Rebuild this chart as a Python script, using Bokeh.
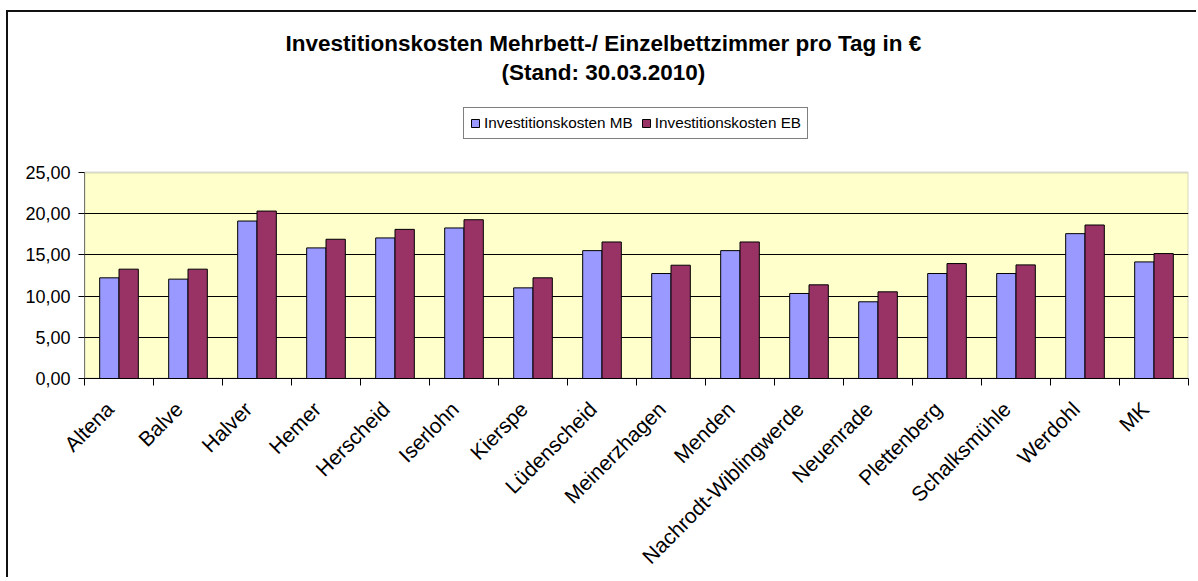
from bokeh.plotting import figure
from bokeh.models import (FixedTicker, CustomJSTickFormatter, Label, BoxAnnotation,
                          ColumnDataSource)
from bokeh.embed import file_html
from bokeh.resources import INLINE
import math

# ---- data ----
towns = ["Altena", "Balve", "Halver", "Hemer", "Herscheid", "Iserlohn", "Kierspe",
         "Lüdenscheid", "Meinerzhagen", "Menden", "Nachrodt-Wiblingwerde", "Neuenrade",
         "Plettenberg", "Schalksmühle", "Werdohl", "MK"]
kosten_mb = [12.22, 12.06, 19.11, 15.85, 17.06, 18.27, 11.00, 15.52, 12.74, 15.52,
             10.32, 9.31, 12.74, 12.74, 17.58, 14.15]
kosten_eb = [13.27, 13.27, 20.32, 16.90, 18.10, 19.27, 12.22, 16.57, 13.75, 16.57,
             11.37, 10.52, 13.95, 13.79, 18.63, 15.16]
y_ticks = [0, 5, 10, 15, 20, 25]
title_line1 = "Investitionskosten Mehrbett-/ Einzelbettzimmer pro Tag in €"
title_line2 = "(Stand: 30.03.2010)"
series_names = ["Investitionskosten MB", "Investitionskosten EB"]

FONT = "Liberation Sans"
n = len(towns)
y_max = y_ticks[-1]
bw = 0.28
centers = [i + 0.5 for i in range(n)]
label_pos = [c - 0.13 for c in centers]   # rotated labels end slightly left of centre
src = ColumnDataSource(dict(
    x_mb=[c - bw / 2 for c in centers],
    x_eb=[c + bw / 2 for c in centers],
    mb=kosten_mb, eb=kosten_eb))

# frame covers plot area plus the title/legend band above it
p = figure(width=1190, height=567, x_range=(0, n), y_range=(0, 43.45),
           output_backend="svg", toolbar_location=None,
           min_border_left=76, min_border_right=10, min_border_top=8, min_border_bottom=150,
           styles={"border-left": "2px solid #111", "border-top": "2px solid #111",
                   "margin-left": "6px", "margin-top": "10px"})
p.outline_line_color = None
p.background_fill_color = "white"
p.border_fill_color = "white"

# plot area background + gray border (drawn under the grid)
p.add_layout(BoxAnnotation(left=0, right=n, bottom=0, top=y_max, level="image",
                           fill_color="#FFFFCC", fill_alpha=1,
                           line_color="#808080", line_width=2))

# grid
p.xgrid.visible = False
p.ygrid.ticker = FixedTicker(ticks=y_ticks[1:-1])
p.ygrid.grid_line_color = "black"
p.ygrid.grid_line_width = 1

p.vbar(x="x_mb", top="mb", width=bw, source=src, fill_color="#9999FF",
       line_color="black", line_width=1, legend_label=series_names[0])
p.vbar(x="x_eb", top="eb", width=bw, source=src, fill_color="#993366",
       line_color="black", line_width=1, legend_label=series_names[1])

# y axis line only over the value range
p.segment(x0=[0], y0=[0], x1=[0], y1=[y_max], line_color="black", line_width=1)

ya = p.yaxis[0]
ya.ticker = FixedTicker(ticks=y_ticks)
ya.formatter = CustomJSTickFormatter(code="return tick.toFixed(2).replace('.', ',')")
ya.axis_line_color = None
ya.major_tick_in = 0
ya.major_tick_out = 6
ya.minor_tick_out = 0
ya.minor_tick_in = 0
ya.major_label_standoff = 8
ya.major_label_text_font = FONT
ya.major_label_text_font_size = "18px"
ya.major_label_text_color = "black"
ya.major_tick_line_color = "black"

# x axis
xa = p.xaxis[0]
xa.ticker = FixedTicker(ticks=label_pos, minor_ticks=list(range(n + 1)))
xa.formatter = CustomJSTickFormatter(args=dict(names=towns),
                                     code="return names[Math.floor(tick)]")
xa.major_tick_in = 0
xa.major_tick_out = 0
xa.minor_tick_in = 0
xa.minor_tick_out = 7
xa.minor_tick_line_color = "black"
xa.axis_line_color = "black"
xa.major_label_orientation = math.pi / 4
xa.major_label_standoff = 20
xa.major_label_text_font = FONT
xa.major_label_text_font_size = "21px"
xa.major_label_text_color = "black"

# title
p.add_layout(Label(x=7.52, y=40.68, text=title_line1, text_align="center",
                   text_baseline="alphabetic", text_font=FONT, text_font_size="22.5px",
                   text_font_style="bold", text_color="black"))
p.add_layout(Label(x=7.52, y=37.17, text=title_line2, text_align="center",
                   text_baseline="alphabetic", text_font=FONT, text_font_size="22.5px",
                   text_font_style="bold", text_color="black"))

# legend
lg = p.legend[0]
lg.location = (379, 239)
lg.orientation = "horizontal"
lg.border_line_color = "black"
lg.border_line_width = 1
lg.background_fill_color = "white"
lg.background_fill_alpha = 1
lg.label_text_font = FONT
lg.label_text_font_size = "15.3px"
lg.label_text_color = "black"
lg.glyph_width = 10
lg.glyph_height = 10
lg.label_height = 18
lg.padding = 6
lg.spacing = 8
lg.label_standoff = 4
lg.margin = 0

open("out.html", "w").write(file_html(p, INLINE))
